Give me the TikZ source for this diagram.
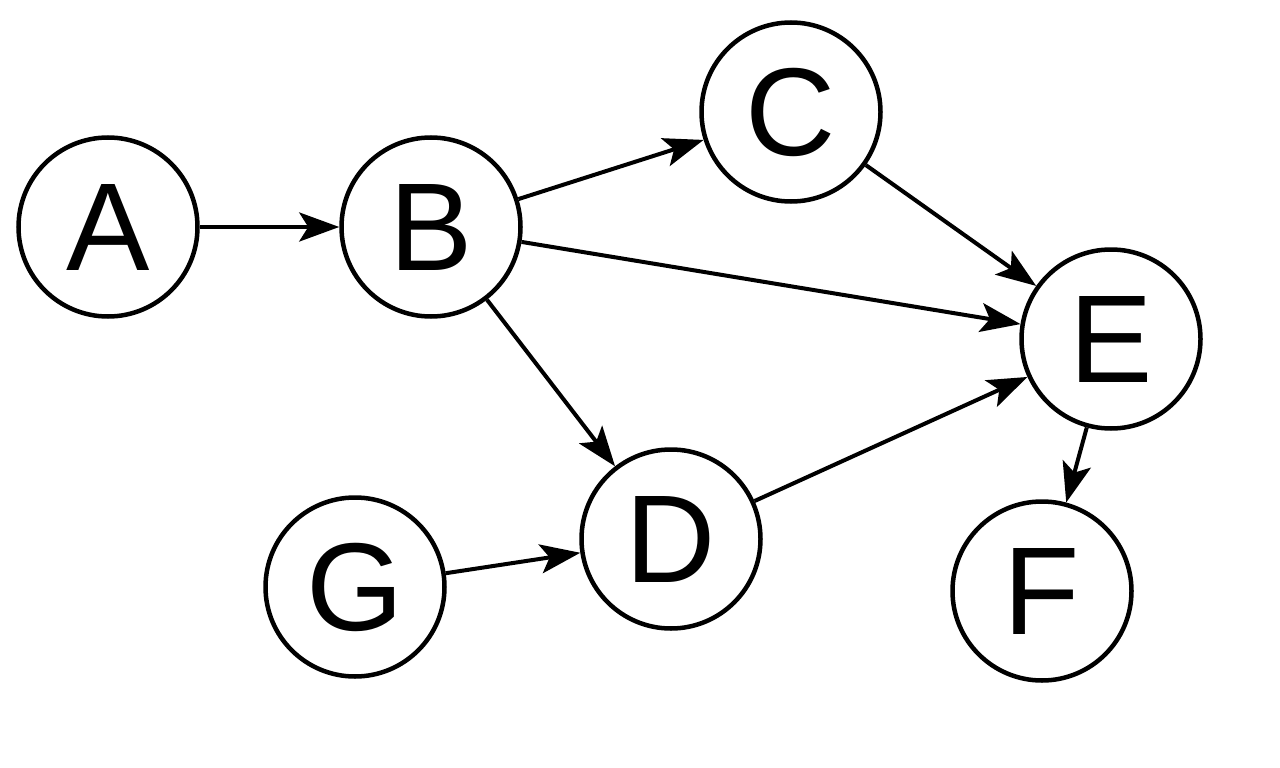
\documentclass[tikz,border=0pt]{standalone}
\usepackage{fontspec}
\setmainfont{Liberation Sans}
\usetikzlibrary{arrows.meta}
\begin{document}
\begin{tikzpicture}[x=1pt,y=-1pt,
  vert/.style={circle,draw,line width=4.5pt,minimum size=179pt,inner sep=0pt,
    font=\fontsize{125}{125}\selectfont},
  edge/.style={line width=4pt,-{Stealth[length=40pt,width=29pt,inset=9pt]}}]
\useasboundingbox (0,0) rectangle (1280,768);
\node[vert] (A) at (108,227) {A};
\node[vert] (B) at (431,227) {B};
\node[vert] (C) at (791,112) {C};
\node[vert] (E) at (1111,339) {E};
\node[vert] (D) at (671,539) {D};
\node[vert] (G) at (355,587) {G};
\node[vert] (F) at (1042,591) {F};
\draw[edge] (A) -- (B);
\draw[edge] (B) -- (C);
\draw[edge] (B) -- (E);
\draw[edge] (B) -- (D);
\draw[edge] (C) -- (E);
\draw[edge] (D) -- (E);
\draw[edge] (G) -- (D);
\draw[edge] (E) -- (F);
\end{tikzpicture}
\end{document}
